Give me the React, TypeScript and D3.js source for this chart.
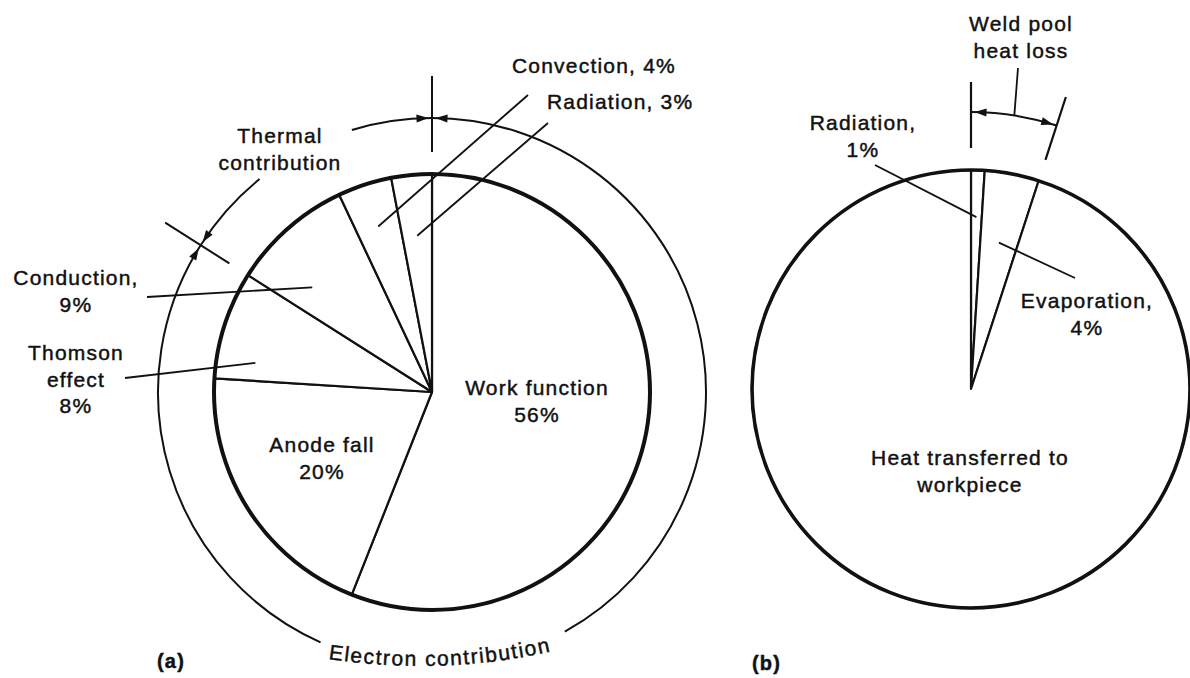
import React from "react";
import * as d3 from "d3";

// ---------- data ----------
const electronCategories = ["Work function", "Anode fall", "Thomson effect", "Conduction", "Convection", "Radiation"];
const electronValues = [56, 20, 8, 9, 4, 3];
const electronGroupSize = 3; // first three slices = electron contribution, rest = thermal
const weldCategories = ["Radiation", "Evaporation", "Heat transferred to workpiece"];
const weldValues = [1, 4, 95];
const weldLossSize = 2; // first two slices = weld pool heat loss

const W = 1190;
const H = 678;
const FONT = "'Liberation Sans', Arial, Helvetica, sans-serif";
const deg = Math.PI / 180;

type Pt = [number, number];
function polar(cx: number, cy: number, r: number, a: number): Pt {
  return [cx + r * Math.sin(a), cy - r * Math.cos(a)];
}
// arc path using pie convention angles (clockwise from 12 o'clock)
function arcPath(cx: number, cy: number, r: number, a0: number, a1: number, ccw = false) {
  const p = d3.path();
  const [x0, y0] = polar(cx, cy, r, a0);
  p.moveTo(x0, y0);
  p.arc(cx, cy, r, a0 - Math.PI / 2, a1 - Math.PI / 2, ccw);
  return p.toString();
}
function arrowHead(cx: number, cy: number, r: number, aTip: number, dir: number, len = 12, hw = 4) {
  const tip = polar(cx, cy, r, aTip);
  const aBack = aTip - (dir * len) / r;
  const b1 = polar(cx, cy, r + hw, aBack);
  const b2 = polar(cx, cy, r - hw, aBack);
  return `M${tip[0]},${tip[1]}L${b1[0]},${b1[1]}L${b2[0]},${b2[1]}Z`;
}

const textStyle = { fontFamily: FONT, fontSize: 21, letterSpacing: 1.2, fill: "#111", stroke: "#111", strokeWidth: 0.45 };

const Label = ({ x, y, lines, anchor = "middle", lh = 27, size = 21, weight = "normal" }: any) => (
  <text x={x} y={y} textAnchor={anchor} {...textStyle} fontSize={size} fontWeight={weight}>
    {lines.map((l: string, i: number) => (
      <tspan key={i} x={x} y={y + i * lh}>
        {l}
      </tspan>
    ))}
  </text>
);

export default function App() {
  // ---------- pie (a) ----------
  const A = { cx: 432, cy: 392, r: 218, ring: 274 };
  const pie = d3.pie<number>().sort(null).startAngle(0).endAngle(2 * Math.PI);
  const arcsA = pie(electronValues);
  const arcGen = d3.arc<d3.PieArcDatum<number>>().innerRadius(0);
  const boundary = arcsA[electronGroupSize - 1].endAngle;

  const sliceAt = (arcs: d3.PieArcDatum<number>[], i: number, frac: number) =>
    arcs[i].startAngle + frac * (arcs[i].endAngle - arcs[i].startAngle);

  // gaps in the ring for text
  const elecGap = [151 * deg, 204 * deg];
  const thermGap = [321 * deg, 343 * deg];
  const tickPad = 3.5 / A.ring;

  const ringA = [
    arcPath(A.cx, A.cy, A.ring, 0, elecGap[0]),
    arcPath(A.cx, A.cy, A.ring, elecGap[1], boundary),
    arcPath(A.cx, A.cy, A.ring, boundary, thermGap[0]),
    arcPath(A.cx, A.cy, A.ring, thermGap[1], 2 * Math.PI),
  ];
  const arrowsA = [
    arrowHead(A.cx, A.cy, A.ring, tickPad, -1),
    arrowHead(A.cx, A.cy, A.ring, 2 * Math.PI - tickPad, 1),
    arrowHead(A.cx, A.cy, A.ring, boundary - tickPad, 1),
    arrowHead(A.cx, A.cy, A.ring, boundary + tickPad, -1),
  ];
  const ticksA = [0, boundary].map((a) => [polar(A.cx, A.cy, 240, a), polar(A.cx, A.cy, 316, a)]);
  // flatter guide curve for the curved caption
  const capC = { cx: 420, cy: 66, r: 600 };
  const textPathA = arcPath(capC.cx, capC.cy, capC.r, 188.8 * deg, 160 * deg, true);

  const leadersA: [Pt, Pt][] = [
    [polar(A.cx, A.cy, 174, sliceAt(arcsA, 4, 0.5)), [528, 95]],
    [polar(A.cx, A.cy, 157, sliceAt(arcsA, 5, 0.5)), [548, 123]],
    [polar(A.cx, A.cy, 159, sliceAt(arcsA, 3, 0.27)), [147, 297]],
    [polar(A.cx, A.cy, 179, sliceAt(arcsA, 2, 0.2)), [125, 378]],
  ];

  // ---------- pie (b) ----------
  const B = { cx: 971, cy: 389, r: 219, ring: 277 };
  const arcsB = pie(weldValues);
  const lossEnd = arcsB[weldLossSize - 1].endAngle;
  const padB = 3.5 / B.ring;
  const ticksB = [0, lossEnd].map((a) => [polar(B.cx, B.cy, 241, a), polar(B.cx, B.cy, 307, a)]);
  const bracketB = arcPath(B.cx, B.cy, B.ring, 0, lossEnd);
  const arrowsB = [arrowHead(B.cx, B.cy, B.ring, padB, -1), arrowHead(B.cx, B.cy, B.ring, lossEnd - padB, 1)];
  const leadersB: [Pt, Pt][] = [
    [polar(B.cx, B.cy, 172, sliceAt(arcsB, 0, 0.5)), [875, 165]],
    [polar(B.cx, B.cy, 149, sliceAt(arcsB, 1, 0.5)), [1075, 278]],
    [polar(B.cx, B.cy, B.ring, lossEnd / 2), [1018, 68]],
  ];

  const line = (p: [Pt, Pt], i: number, w = 1.8) => (
    <line key={i} x1={p[0][0]} y1={p[0][1]} x2={p[1][0]} y2={p[1][1]} stroke="#111" strokeWidth={w} />
  );

  return (
    <svg width={W} height={H} style={{ position: "absolute", left: 0, top: 0, background: "#fff" }}>
      <defs>
        <path id="electronPath" d={textPathA} />
      </defs>

      {/* ---- pie (a) ---- */}
      <g transform={`translate(${A.cx},${A.cy})`}>
        {arcsA.map((d, i) => (
          <path key={electronCategories[i]} d={arcGen.outerRadius(A.r)(d) || ""} fill="#fff" stroke="#111" strokeWidth={2.2} strokeLinejoin="round" />
        ))}
        <circle r={A.r} fill="none" stroke="#111" strokeWidth={4} />
      </g>
      {ringA.map((d, i) => (
        <path key={i} d={d} fill="none" stroke="#111" strokeWidth={2} />
      ))}
      {arrowsA.map((d, i) => (
        <path key={i} d={d} fill="#111" />
      ))}
      {ticksA.map((t, i) => line(t as [Pt, Pt], i, 2))}
      {leadersA.map((l, i) => line(l, i))}

      <Label x={280} y={143} lines={["Thermal", "contribution"]} />
      <Label x={512} y={73} anchor="start" lines={["Convection, 4%"]} />
      <Label x={547} y={109} anchor="start" lines={["Radiation, 3%"]} />
      <Label x={76} y={285} lines={["Conduction,", "9%"]} />
      <Label x={76} y={360} lines={["Thomson", "effect", "8%"]} lh={26.5} />
      <Label x={537} y={395} lines={["Work function", "56%"]} />
      <Label x={322} y={452} lines={["Anode fall", "20%"]} />
      <text {...textStyle} letterSpacing={1.6}>
        <textPath href="#electronPath" startOffset="0">
          Electron contribution
        </textPath>
      </text>
      <Label x={157} y={668} anchor="start" lines={["(a)"]} weight="bold" size={20} />

      {/* ---- pie (b) ---- */}
      <g transform={`translate(${B.cx},${B.cy})`}>
        {arcsB.map((d, i) => (
          <path key={weldCategories[i]} d={arcGen.outerRadius(B.r)(d) || ""} fill="#fff" stroke="#111" strokeWidth={2.2} strokeLinejoin="round" />
        ))}
        <circle r={B.r} fill="none" stroke="#111" strokeWidth={3.6} />
      </g>
      <path d={bracketB} fill="none" stroke="#111" strokeWidth={2} />
      {arrowsB.map((d, i) => (
        <path key={i} d={d} fill="#111" />
      ))}
      {ticksB.map((t, i) => line(t as [Pt, Pt], i, 2.2))}
      {leadersB.map((l, i) => line(l, i))}

      <Label x={1021} y={31} lines={["Weld pool", "heat loss"]} />
      <Label x={863} y={130} lines={["Radiation,", "1%"]} />
      <Label x={1087} y={308} lines={["Evaporation,", "4%"]} />
      <Label x={970} y={465} lines={["Heat transferred to", "workpiece"]} />
      <Label x={752} y={670} anchor="start" lines={["(b)"]} weight="bold" size={20} />
    </svg>
  );
}
